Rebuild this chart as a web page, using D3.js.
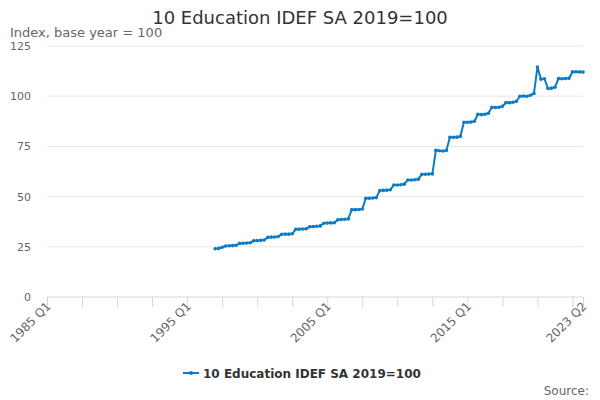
<!DOCTYPE html>
<html lang=en>
<head>
<meta charset=utf-8>
<title>10 Education IDEF SA 2019=100</title>
<script src=https://d3js.org/d3.v7.min.js></script>
<style>body{margin:0;font-family:"DejaVu Sans",sans-serif}</style>
</head>
<body>
<svg id=chart width=600 height=400></svg>
<script>
// quarters 1985 Q1 .. 2023 Q2
const categories = [];
for (let y = 1985; y <= 2023; y++) for (let q = 1; q <= 4; q++) if (y < 2023 || q <= 2) categories.push(y + " Q" + q);
const seriesStart = "1997 Q1";
const values = [
  24.0,24.2,24.8,25.4, 25.5,25.6,25.8,26.7, 26.8,26.9,27.0,28.0, 28.1,28.2,28.4,29.7,
  29.8,29.9,30.1,31.2, 31.3,31.3,31.5,33.7, 33.8,33.9,34.0,35.0, 35.1,35.2,35.4,36.7,
  36.8,36.9,37.0,38.5, 38.6,38.7,38.9,43.5, 43.5,43.6,43.8,49.2, 49.2,49.3,49.5,53.0,
  53.1,53.2,53.4,55.8, 55.8,55.9,56.2,58.3, 58.3,58.4,58.7,61.1, 61.1,61.2,61.3,73.0,
  72.8,72.7,73.0,79.5, 79.5,79.6,80.0,87.0, 87.0,87.1,87.5,91.0, 90.8,91.0,91.5,94.5,
  94.4,94.5,95.0,96.8, 96.8,97.0,97.5,100.0, 100.1,100.0,100.5,101.4, 114.5,108.5,108.7,103.8,
  104.0,104.5,108.8,108.7, 108.8,108.9,112.1,112.2, 112.1,112.0
];
const yTicks = [0, 25, 50, 75, 100, 125];
const xLabels = ["1985 Q1", "1995 Q1", "2005 Q1", "2015 Q1", "2023 Q2"];
const title = "10 Education IDEF SA 2019=100";

const svg = d3.select("#chart");
const x = d3.scalePoint().domain(categories).range([47, 583]);
const y = d3.scaleLinear().domain([0, 125]).range([297, 46]);
const s0 = categories.indexOf(seriesStart);
const data = values.map((v, i) => ({c: categories[s0 + i], v}));

svg.append("text").attr("x", 300).attr("y", 24).attr("text-anchor", "middle")
  .attr("font-size", 18).attr("fill", "#333").text(title);
svg.append("text").attr("x", 10).attr("y", 37).attr("font-size", 13).attr("fill", "#666").text("Index, base year = 100");

const ga = svg.append("g").attr("transform", "translate(35,0)")
  .call(d3.axisLeft(y).tickValues(yTicks).tickSize(0).tickPadding(4));
ga.select(".domain").remove();
ga.selectAll("text").attr("font-size", 11).attr("fill", "#666").attr("font-family", "DejaVu Sans");
svg.append("g").selectAll("line").data(yTicks.slice(1)).join("line")
  .attr("x1", 47).attr("x2", 583).attr("y1", d => y(d)).attr("y2", d => y(d)).attr("stroke", "#e6e6e6");

const tickCats = categories.filter((c, i) => i % 10 === 0).concat([categories[categories.length - 1]]);
const gx = svg.append("g").attr("transform", "translate(0,297)")
  .call(d3.axisBottom(x).tickValues(tickCats).tickSize(10).tickFormat(c => xLabels.includes(c) ? c : ""));
gx.select(".domain").attr("stroke", "#ccd6eb").attr("d", "M47,0H583");
gx.selectAll("line").attr("stroke", "#ccd6eb");
gx.selectAll("text").attr("font-size", 12).attr("fill", "#666").attr("font-family", "DejaVu Sans")
  .attr("text-anchor", "end").attr("y", 0).attr("dy", 0)
  .attr("transform", "translate(4,10) rotate(-45)");

const color = "#0c7cc4";
svg.append("path").datum(data).attr("fill", "none").attr("stroke", color).attr("stroke-width", 2)
  .attr("d", d3.line().x(d => x(d.c)).y(d => y(d.v)));
svg.append("g").selectAll("circle").data(data).join("circle")
  .attr("cx", d => x(d.c)).attr("cy", d => y(d.v)).attr("r", 1.8).attr("fill", color);

const lg = svg.append("g").attr("transform", "translate(183,373)");
lg.append("line").attr("x1", 0).attr("x2", 16).attr("stroke", color).attr("stroke-width", 2);
lg.append("circle").attr("cx", 8).attr("r", 2).attr("fill", color);
lg.append("text").attr("x", 20).attr("y", 5).attr("font-size", 12).attr("font-weight", "bold").attr("fill", "#333").text(title);
svg.append("text").attr("x", 589).attr("y", 395).attr("text-anchor", "end").attr("font-size", 12).attr("fill", "#666").text("Source:");
</script>
</body>
</html>
